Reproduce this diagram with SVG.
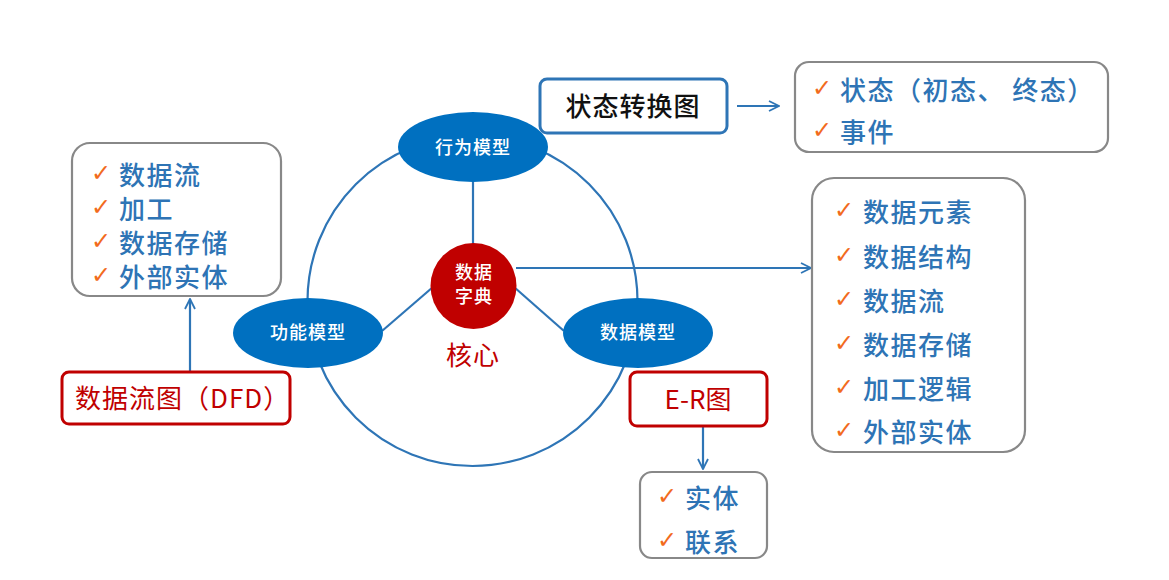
<svg xmlns="http://www.w3.org/2000/svg" width="1169" height="580" viewBox="0 0 1169 580">
<defs>
<style>
.t{font-family:"Noto Sans CJK SC","Liberation Sans",sans-serif;}
.item{font-size:26px;fill:#2E74B5;letter-spacing:1.5px;font-weight:500;}
.chk{font-family:"DejaVu Sans",sans-serif;font-size:24px;fill:#F26B1D;font-weight:700;}
.gbox{fill:#fff;stroke:#888;stroke-width:2.2;}
.rbox{fill:#fff;stroke:#C00000;stroke-width:3;}
.ell{fill:#0070C0;}
.ellt{font-size:18px;fill:#fff;font-weight:500;letter-spacing:1px;}
.con{stroke:#2E75B6;stroke-width:2.2;fill:none;}
.red{fill:#C00000;font-size:26px;}
</style>
<marker id="ar" viewBox="0 0 12 12" refX="11" refY="6" markerWidth="12" markerHeight="12" markerUnits="userSpaceOnUse" orient="auto">
<path d="M1,1 L11,6 L1,11" fill="none" stroke="#2E75B6" stroke-width="1.8"/>
</marker>
</defs>
<rect width="1169" height="580" fill="#fff"/>

<g id="connectors">
<circle class="con" cx="472.5" cy="301" r="165" stroke-width="3"/>
<line class="con" x1="473" y1="180" x2="473" y2="244" stroke-width="3"/>
<line class="con" x1="382" y1="331" x2="433" y2="287" stroke-width="3"/>
<line class="con" x1="564" y1="331" x2="514" y2="287" stroke-width="3"/>
<line class="con" x1="516" y1="268" x2="811" y2="268" marker-end="url(#ar)"/>
<line class="con" x1="737" y1="106" x2="779" y2="106" marker-end="url(#ar)"/>
<line class="con" x1="190" y1="371" x2="190" y2="299" marker-end="url(#ar)"/>
<line class="con" x1="703" y1="427" x2="703" y2="469" marker-end="url(#ar)"/>
</g>

<g id="behavior">
<ellipse class="ell" cx="473" cy="147" rx="75" ry="35"/>
<text class="t ellt" x="473" y="146" text-anchor="middle" dominant-baseline="central">行为模型</text>
</g>
<g id="function">
<ellipse class="ell" cx="308" cy="333" rx="75" ry="35"/>
<text class="t ellt" x="308" y="331" text-anchor="middle" dominant-baseline="central">功能模型</text>
</g>
<g id="datamodel">
<ellipse class="ell" cx="638" cy="333" rx="75" ry="35"/>
<text class="t ellt" x="638" y="331" text-anchor="middle" dominant-baseline="central">数据模型</text>
</g>
<g id="dictionary">
<circle cx="473.5" cy="286" r="43" fill="#C00000"/>
<text class="t ellt" x="474" y="271" text-anchor="middle" dominant-baseline="central">数据</text>
<text class="t ellt" x="474" y="295" text-anchor="middle" dominant-baseline="central">字典</text>
<text class="t red" x="473" y="353" text-anchor="middle" dominant-baseline="central" letter-spacing="1">核心</text>
</g>

<g id="statechart">
<rect x="540" y="79" width="187" height="54" rx="7" fill="#fff" stroke="#2E75B6" stroke-width="3"/>
<text class="t" x="633" y="104" text-anchor="middle" dominant-baseline="central" font-size="26" fill="#111" letter-spacing="1" font-weight="500">状态转换图</text>
</g>
<g id="statebox">
<rect class="gbox" x="795" y="62" width="313" height="90" rx="14"/>
<text class="chk" x="812" y="88" dominant-baseline="central">✓</text>
<text class="t item" x="840" y="88" dominant-baseline="central">状态（初态、 终态）</text>
<text class="chk" x="812" y="130" dominant-baseline="central">✓</text>
<text class="t item" x="840" y="130" dominant-baseline="central">事件</text>
</g>

<g id="dfdbox">
<rect class="gbox" x="72" y="143" width="209" height="153" rx="18"/>
<text class="chk" x="91" y="173" dominant-baseline="central">✓</text>
<text class="t item" x="119" y="173" dominant-baseline="central">数据流</text>
<text class="chk" x="91" y="207" dominant-baseline="central">✓</text>
<text class="t item" x="119" y="207" dominant-baseline="central">加工</text>
<text class="chk" x="91" y="241" dominant-baseline="central">✓</text>
<text class="t item" x="119" y="241" dominant-baseline="central">数据存储</text>
<text class="chk" x="91" y="275" dominant-baseline="central">✓</text>
<text class="t item" x="119" y="275" dominant-baseline="central">外部实体</text>
</g>
<g id="dfd">
<rect class="rbox" x="62" y="372" width="228" height="52" rx="7"/>
<text class="t red" x="75" y="396" dominant-baseline="central" letter-spacing="1">数据流图（DFD）</text>
</g>

<g id="er">
<rect class="rbox" x="630" y="372" width="137" height="54" rx="7"/>
<text class="t red" x="698" y="397" text-anchor="middle" dominant-baseline="central">E-R图</text>
</g>
<g id="erbox">
<rect class="gbox" x="640" y="472" width="127" height="86" rx="12"/>
<text class="chk" x="657" y="496" dominant-baseline="central">✓</text>
<text class="t item" x="685" y="496" dominant-baseline="central">实体</text>
<text class="chk" x="657" y="540" dominant-baseline="central">✓</text>
<text class="t item" x="685" y="540" dominant-baseline="central">联系</text>
</g>

<g id="dictbox">
<rect class="gbox" x="812" y="178" width="213" height="274" rx="22"/>
<text class="chk" x="834" y="210" dominant-baseline="central">✓</text>
<text class="t item" x="863" y="210" dominant-baseline="central">数据元素</text>
<text class="chk" x="834" y="255" dominant-baseline="central">✓</text>
<text class="t item" x="863" y="255" dominant-baseline="central">数据结构</text>
<text class="chk" x="834" y="299" dominant-baseline="central">✓</text>
<text class="t item" x="863" y="299" dominant-baseline="central">数据流</text>
<text class="chk" x="834" y="343" dominant-baseline="central">✓</text>
<text class="t item" x="863" y="343" dominant-baseline="central">数据存储</text>
<text class="chk" x="834" y="387" dominant-baseline="central">✓</text>
<text class="t item" x="863" y="387" dominant-baseline="central">加工逻辑</text>
<text class="chk" x="834" y="430" dominant-baseline="central">✓</text>
<text class="t item" x="863" y="430" dominant-baseline="central">外部实体</text>
</g>
</svg>
